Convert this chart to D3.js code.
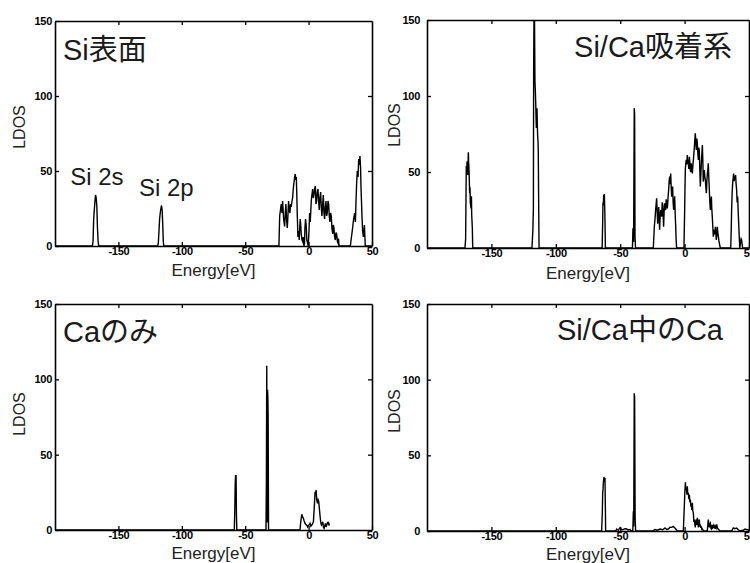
<!DOCTYPE html>
<html>
<head>
<meta charset="utf-8">
<script src="https://cdn.jsdelivr.net/npm/d3@7"></script>
<style>
  body { margin: 0; background: #fff; }
  text { font-family: "Liberation Sans", Arial, "Noto Sans CJK JP", sans-serif; }
</style>
</head>
<body>
<div id="chart"></div>
<script>
// SVG area
var svgWidth = 750;
var svgHeight = 563;

// Axis ticks and titles
var xDomain = [-200, 50];
var yDomain = [0, 150];
var xTicks = [-150, -100, -50, 0, 50];
var yTicks = [0, 50, 100, 150];
var titles = ["Si表面", "Si/Ca吸着系", "Caのみ", "Si/Ca中のCa"];

// LDOS curves: [energy (eV), LDOS]
var siSurface = [
  [-200,0],[-170.5,0],[-170,3],[-169.5,18],[-169,24],[-168.5,30],[-168,34],[-167.5,32],[-167,26],[-166.5,12],[-166,3],[-165.5,0],
  [-119,0],[-118.5,2],[-118,10],[-117.5,18],[-117,22],[-116.5,25],[-116,27],[-115.5,24],[-115,14],[-114.6,3],[-114.2,0],
  [-23.4,0],[-22.8,20],[-22.2,24],[-21.6,28],[-21,22],[-20.5,30],[-19.7,18],[-18.9,13],[-18.4,22],[-17.9,28],[-17.4,18],
  [-16.8,12],[-16.3,20],[-15.8,30],[-15.2,24],[-14.7,22],[-14.2,28],[-13.7,26],[-13.1,30],[-12.6,32],[-12.1,38],[-11.6,42],
  [-11,46],[-10.5,48],[-10.1,44],[-9.7,46],[-9.3,34],[-8.9,20],[-8.4,6],[-7.9,10],[-7.4,4],[-7,12],[-6.6,18],[-6.2,14],
  [-5.8,8],[-5.2,4],[-4.7,3],[-4.2,6],[-3.7,0],[-3.2,2],[-2.9,12],[-2.4,18],[-1.9,14],[-1.4,4],[-0.8,2],[-0.3,0],
  [0.3,10],[0.8,22],[1.3,16],[2.1,30],[2.6,34],[3.2,38],[3.7,32],[4.2,34],[4.7,38],[5.3,40],[5.8,28],[6.3,30],[6.8,36],
  [7.4,38],[7.9,30],[8.4,24],[8.9,32],[9.5,36],[10,26],[10.5,20],[11.1,28],[11.6,34],[12.1,22],[12.6,18],[13.2,26],
  [13.7,30],[14.2,20],[14.7,22],[15.3,30],[15.8,28],[16.3,20],[16.8,16],[17.4,22],[17.9,20],[18.4,12],[19,8],[19.5,14],
  [20,12],[20.5,6],[21.1,4],[21.6,9],[22.1,8],[22.7,3],[23.2,2],[23.6,5],[24,0],
  [32.9,0],[33.8,6],[34.7,12],[35.5,18],[36.3,22],[36.9,16],[37.4,30],[37.9,42],[38.4,50],[39,46],[39.5,58],[40,54],
  [40.5,60],[41,52],[41.3,40],[41.7,30],[42.1,20],[42.6,10],[43.2,6],[43.6,10],[44,14],[44.4,6],[44.7,0],[50,0]
];

var siCaSystem = [
  [-200,0],[-170.5,0],[-170,6],[-169.5,54],[-169.2,50],[-168.9,57],[-168.4,48],[-167.9,63],[-167.6,55],[-167.4,52],
  [-166.9,36],[-166.6,40],[-166.4,30],[-165.8,26],[-165.5,34],[-165.3,22],[-164.8,13],[-164.5,0],
  [-118.5,0],[-117.8,12],[-117.4,26],[-117.2,115],[-116.9,160],[-116.6,160],[-116.2,110],[-115.9,104],[-115.6,96],
  [-115.3,85],[-115.1,79],[-114.8,88],[-114.6,92],[-114.3,80],[-114.1,74],[-113.8,70],[-113.6,63],[-113.3,30],[-113,0],
  [-64,0],[-63.6,18],[-63.4,30],[-63.1,28],[-62.8,35],[-62.5,33],[-62.3,35.5],[-61.9,22],[-61.5,0],
  [-40.5,0],[-40.1,13],[-39.6,4],[-39.1,92],[-38.8,88],[-38.5,8],[-38.1,0],
  [-24.3,0],[-23.5,14],[-22.9,20],[-22.5,25],[-21.7,32.7],[-21.3,24],[-20.9,16],[-20.5,22],[-20.1,27],[-19.4,12],[-19,20],
  [-18.6,25],[-18.2,22],[-17.8,20.6],[-17.4,30],[-17,28],[-16.6,20],[-16.3,14],[-15.9,24],[-15.5,29.4],[-15.1,26],
  [-14.7,25],[-14.3,32],[-13.9,30.5],[-13.5,26],[-13.2,28],[-12.8,34],[-12.4,38],[-12,44],[-11.6,47],[-11.2,42],
  [-10.8,49],[-10.4,40],[-10,33.8],[-9.7,37],[-9.3,40.4],[-8.9,30],[-8.5,25],[-8.1,30],[-7.7,34],[-7.3,22],[-6.9,14],
  [-6.6,6],[-6.2,0],
  [-0.5,0],[0.05,25],[0.3,40],[0.6,52.4],[1,56],[1.3,58],[1.7,55],[2.1,61.2],[2.5,57],[2.9,55.7],[3.3,52],[3.7,60],
  [4.1,56],[4.4,51.3],[4.8,50],[5.2,55.7],[5.6,52],[6,49],[6.4,54],[6.8,58],[7.2,62],[7.6,66.7],[8,72],[8.3,75.4],
  [8.7,70],[9.1,64.5],[9.5,72],[9.9,68.9],[10.3,62],[10.7,58],[11,66],[11.4,64.5],[11.8,52],[12.2,40.4],[12.6,48],
  [13,55.7],[13.4,62],[13.8,67.8],[14.2,56],[14.5,43.7],[14.9,48],[15.3,51.3],[15.7,47],[16.1,44.8],[16.5,40],[16.9,36],
  [17.3,44],[17.7,49],[18.1,52],[18.4,55.7],[18.8,46],[19.2,38],[19.6,30],[20,25],[20.4,30],[20.8,33.8],[21.1,26],
  [21.5,20.6],[21.9,14],[22.3,7.5],[22.7,10],[23.1,12],[23.5,9],[23.9,14],[24.3,10],[24.6,5.3],[25,9],[25.4,14],
  [25.8,10],[26.2,7.5],[26.6,5],[27,3],[27.7,0],
  [35.8,0],[36.2,12],[36.5,25],[36.9,36],[37.3,42.6],[37.7,46],[38.1,49],[38.5,44],[38.9,47],[39.2,45],[39.6,48],
  [40,42],[40.4,38],[40.8,30],[41.2,33.8],[41.6,24],[42,16],[42.4,8],[42.8,0],[43.2,2],[43.5,4],[43.9,6],[44.3,5.3],
  [44.7,2],[45.1,0],[50,0]
];

var caOnly = [
  [-200,0],[-58.6,0],[-58.2,13],[-57.9,30],[-57.6,36],[-57.2,36],[-56.9,10],[-56.6,0],
  [-33.6,0],[-33.3,32],[-33,109],[-32.7,5],[-32.4,93],[-32.1,88],[-31.9,75],[-31.6,0],
  [-6.8,0],[-6.1,6],[-5.4,10.4],[-4.8,9],[-4.1,7.7],[-3.5,6],[-2.8,4.4],[-2.1,3.5],[-1.5,3.3],[-0.8,2],[-0.2,2.9],
  [0.5,3.5],[1.1,4.4],[1.8,2.5],[2.5,3.3],[3.1,4],[3.8,5.5],[4.4,14],[5.1,25.4],[5.5,24],[5.9,26.5],[6.4,20],[7,17.7],
  [7.5,20],[8,18.8],[8.5,14],[9.1,8.8],[9.6,5],[10.1,3.3],[10.6,4],[11.2,5.5],[11.7,2],[12.2,1.1],[12.8,3],[13.3,4.4],
  [13.8,2],[14.3,3.3],[15,5],[15.6,5],[16,3],[16.4,4.4]
];

var caInSiCa = [
  [-200,0],[-64.4,0],[-63.9,12],[-63.6,25],[-63.3,28],[-63.1,31.7],[-62.8,34],[-62.6,35.7],[-62.2,34],[-61.8,35],
  [-61.5,14],[-61.3,0],
  [-53.5,0],[-52.7,1.3],[-51.5,0.5],[-50.1,2.2],[-48.8,0.8],[-47.6,1],[-46.3,1.5],[-45,1.3],[-43.7,0.7],[-42.4,1],[-41.5,0],
  [-40.2,0],[-39.8,13],[-39.5,3],[-39.1,91],[-38.8,88],[-38.4,8],[-38,0],
  [-25,0],[-23,1],[-21,0.5],[-19.1,1.3],[-17,0.8],[-15.2,2],[-13.9,1],[-12.6,1.3],[-11.3,2.5],[-10,2.4],[-8.8,3],
  [-7.5,2],[-6.5,1],[-5.6,0],
  [-1,0],[-0.6,8],[-0.2,16.7],[0.2,26],[0.6,32.2],[1,27],[1.4,28.5],[1.8,24],[2.1,29.6],[2.5,24],[2.9,25.2],[3.3,21],
  [3.7,24],[4.1,19],[4.5,20.8],[4.9,16],[5.2,17.5],[5.6,14],[6,18.6],[6.4,13],[6.8,12],[7.2,6],[7.6,7.6],[8,4],
  [8.3,2.4],[8.7,6],[9.1,7.6],[9.5,4],[9.9,8.7],[10.3,5],[10.7,2.4],[11,6],[11.4,7.6],[11.8,3],[12.2,4.3],[12.6,2],
  [13,3],[13.4,1],[13.8,1.3],[14.4,0.5],[15.1,0],
  [17.6,0],[18,4],[18.4,7.6],[18.8,4],[19.2,2.4],[19.6,5],[20,5.4],[20.4,2],[20.8,1.4],[21.2,3],[21.5,4],[21.9,2],
  [22.3,2.4],[22.7,4],[23.1,3.5],[23.5,1.5],[23.9,3],[24.4,2],[24.9,4.3],[25.5,2],[26,1.3],[27.5,0],
  [36.5,0],[37.8,2],[39,1.5],[40.4,2],[41.5,1],[43,0],[45.5,0.5],[46.9,1.3],[48,1],[49.5,0.8],[50,0]
];

// Peak labels in the first panel: [text, energy, LDOS]
var peakLabels = [["Si 2s", -188, 40.7], ["Si 2p", -133.8, 33.3]];

// Panel layout (pixels)
var panels = [
  {data: siSurface, title: titles[0], left: 55, right: 372, top: 21, bottom: 246,
   titleX: 63, titleY: 60, anchor: "start", pad: 3, ldosX: 25, ldosY: 127, xlabY: 276, notes: peakLabels},
  {data: siCaSystem, title: titles[1], left: 427, right: 749, top: 20, bottom: 248,
   titleX: 732, titleY: 57, anchor: "end", pad: 7, ldosX: 400, ldosY: 125, xlabY: 279, notes: []},
  {data: caOnly, title: titles[2], left: 55, right: 372, top: 304, bottom: 530,
   titleX: 63, titleY: 342, anchor: "start", pad: 3, ldosX: 25, ldosY: 414, xlabY: 559, notes: []},
  {data: caInSiCa, title: titles[3], left: 427, right: 749, top: 304, bottom: 531,
   titleX: 723, titleY: 340, anchor: "end", pad: 7, ldosX: 400, ldosY: 411, xlabY: 560, notes: []}
];

var svg = d3.select("#chart")
  .append("svg")
  .attr("width", svgWidth)
  .attr("height", svgHeight);

function styleAxis(g) {
  g.select(".domain").attr("stroke", "#000").attr("stroke-width", 1.6);
  g.selectAll(".tick line").attr("stroke", "#000").attr("stroke-width", 1.3);
  g.selectAll(".tick text")
    .attr("fill", "#000")
    .style("font-size", "11px")
    .style("font-weight", "bold")
    .style("letter-spacing", "-0.3px");
}

panels.forEach(function(p, i) {
  var x = d3.scaleLinear().domain(xDomain).range([p.left, p.right]);
  var y = d3.scaleLinear().domain(yDomain).range([p.bottom, p.top]);

  svg.append("clipPath")
    .attr("id", "clip" + i)
    .append("rect")
    .attr("x", p.left)
    .attr("y", p.top)
    .attr("width", p.right - p.left)
    .attr("height", p.bottom - p.top);

  // LDOS curve
  var line = d3.line()
    .x(function(d) { return x(d[0]); })
    .y(function(d) { return y(d[1]); });

  svg.append("path")
    .datum(p.data)
    .attr("clip-path", "url(#clip" + i + ")")
    .attr("fill", "none")
    .attr("stroke", "#000")
    .attr("stroke-width", 1.4)
    .attr("d", line);

  // Box axes, ticks pointing inward
  svg.append("g")
    .attr("transform", "translate(0," + p.bottom + ")")
    .call(d3.axisBottom(x).tickValues(xTicks).tickSizeInner(-4).tickSizeOuter(0)
      .tickPadding(1).tickFormat(function(d) { return String(d); }))
    .call(styleAxis);

  svg.append("g")
    .attr("transform", "translate(0," + p.top + ")")
    .call(d3.axisTop(x).tickValues(xTicks.slice(0, 4)).tickSizeInner(-4).tickSizeOuter(0).tickFormat(""))
    .call(styleAxis);

  svg.append("g")
    .attr("transform", "translate(" + p.left + ",0)")
    .call(d3.axisLeft(y).tickValues(yTicks).tickSizeInner(-4).tickSizeOuter(0)
      .tickPadding(p.pad).tickFormat(function(d) { return String(d); }))
    .call(styleAxis);

  svg.append("g")
    .attr("transform", "translate(" + p.right + ",0)")
    .call(d3.axisRight(y).tickValues(yTicks.slice(1, 3)).tickSizeInner(-4).tickSizeOuter(0).tickFormat(""))
    .call(styleAxis);

  // Axis labels
  svg.append("text")
    .attr("x", (p.left + p.right) / 2)
    .attr("y", p.xlabY)
    .attr("text-anchor", "middle")
    .style("font-size", "17px")
    .attr("fill", "#222")
    .text("Energy[eV]");

  svg.append("text")
    .attr("transform", "translate(" + p.ldosX + "," + p.ldosY + ") rotate(-90)")
    .attr("text-anchor", "middle")
    .style("font-size", "16px")
    .attr("fill", "#222")
    .text("LDOS");

  // Panel title
  svg.append("text")
    .attr("x", p.titleX)
    .attr("y", p.titleY)
    .attr("text-anchor", p.anchor)
    .style("font-size", "29px")
    .attr("fill", "#1a1a1a")
    .text(p.title);

  p.notes.forEach(function(n) {
    svg.append("text")
      .attr("x", x(n[1]))
      .attr("y", y(n[2]))
      .style("font-size", "24px")
      .attr("fill", "#1a1a1a")
      .text(n[0]);
  });
});
</script>
</body>
</html>
